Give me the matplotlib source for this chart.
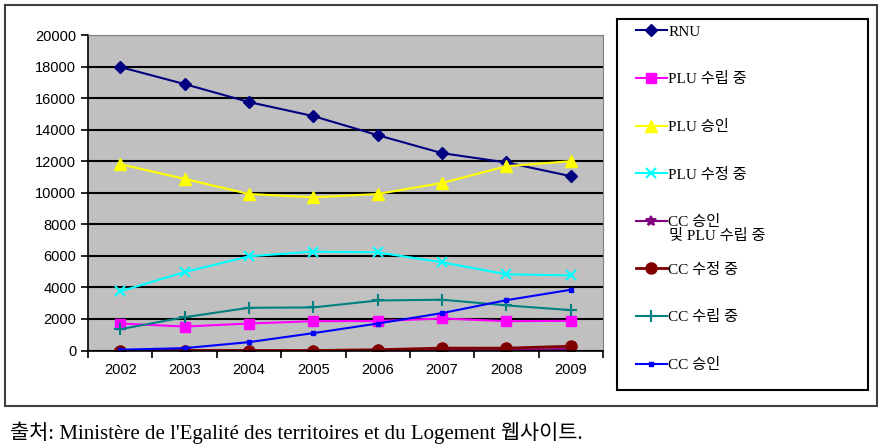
import matplotlib.pyplot as plt
from matplotlib.patches import Rectangle

years = [2002, 2003, 2004, 2005, 2006, 2007, 2008, 2009]

rnu = [17970, 16890, 15750, 14860, 13650, 12510, 11920, 11050]
plu_draft = [1710, 1520, 1710, 1860, 1870, 2030, 1860, 1880]
plu_approved = [11810, 10880, 9920, 9710, 9920, 10620, 11680, 12000]
plu_revision = [3750, 4970, 5970, 6270, 6220, 5590, 4830, 4760]
cc_and_plu = [0, 0, 0, 0, 20, 40, 60, 90]
cc_revision = [0, 0, 0, 0, 50, 150, 150, 270]
cc_draft = [1350, 2110, 2710, 2730, 3170, 3220, 2860, 2560]
cc_approved = [50, 150, 530, 1100, 1710, 2370, 3190, 3850]

labels = ["RNU", "PLU 수립 중", "PLU 승인", "PLU 수정 중",
          "CC 승인", "CC 수정 중", "CC 수립 중", "CC 승인"]
# second line of the fifth legend label
label5_line2 = "및 PLU 수립 중"
series = [rnu, plu_draft, plu_approved, plu_revision,
          cc_and_plu, cc_revision, cc_draft, cc_approved]
colors = ["#000080", "#FF00FF", "#FFFF00", "#00FFFF",
          "#800080", "#800000", "#008080", "#0000FF"]
markers = ["D", "s", "^", "x", "*", "o", "+", "s"]
msizes = [6, 7, 8, 7, 7, 8, 8, 3]

serif = ["Liberation Serif", "Noto Sans CJK KR"]
W, H = 882, 448

fig = plt.figure(figsize=(W / 100, H / 100), dpi=100)

# outer chart frame
fig.patches.append(Rectangle((5 / W, 1 - 406 / H), 872 / W, 401 / H,
                             transform=fig.transFigure, fill=False,
                             edgecolor="#404040", linewidth=1.5))
# legend frame
fig.patches.append(Rectangle((617 / W, 1 - 390 / H), 251 / W, 371 / H,
                             transform=fig.transFigure, fill=False,
                             edgecolor="black", linewidth=1.5))

ax = fig.add_axes([88 / W, 1 - 350.5 / H, 515 / W, 315.5 / H])
ax.set_facecolor("#C0C0C0")

x = list(range(len(years)))
for ys, lab, c, m, ms in zip(series, labels, colors, markers, msizes):
    mew = 1.5 if m in ("x", "+", "*") else 1
    lw = 2 if c == "#800000" else 1.5
    ax.plot(x, ys, color=c, marker=m, markersize=ms, linewidth=lw,
            markeredgewidth=mew, label=lab)

ax.set_xlim(-0.5, len(years) - 0.5)
ax.set_ylim(0, 20000)
ax.set_yticks(range(0, 20001, 2000))
ax.yaxis.grid(True, color="black", linewidth=1.5)
ax.set_axisbelow(True)
ax.set_xticks(x)
ax.set_xticklabels([str(y) for y in years])
ax.set_xticks([i - 0.5 for i in range(len(years) + 1)], minor=True)
ax.tick_params(axis="x", which="major", length=0, pad=9)
ax.tick_params(axis="x", which="minor", length=5, width=1.2, direction="out")
ax.tick_params(axis="y", length=5, width=1.2, direction="out")
for t in ax.get_xticklabels() + ax.get_yticklabels():
    t.set_fontfamily("Liberation Sans")
    t.set_fontsize(10.5)
for side in ("top", "right"):
    ax.spines[side].set_color("#808080")
for side in ("left", "bottom"):
    ax.spines[side].set_color("black")
    ax.spines[side].set_linewidth(1.2)

leg = fig.legend(loc="upper left", bbox_to_anchor=(636 / W, 1 - 25 / H),
                 prop={"family": serif, "size": 11}, frameon=False,
                 labelspacing=2.2, handlelength=2.0, handletextpad=0.1,
                 borderpad=0, borderaxespad=0)

fig.text(669 / W, 1 - 236 / H, label5_line2, family=serif, fontsize=11,
         va="center", ha="left")

fig.text(10 / W, 1 - 433 / H,
         "출처: Ministère de l'Egalité des territoires et du Logement 웹사이트.",
         family=serif, fontsize=15, va="center", ha="left")

fig.savefig("out.png", dpi=100)
